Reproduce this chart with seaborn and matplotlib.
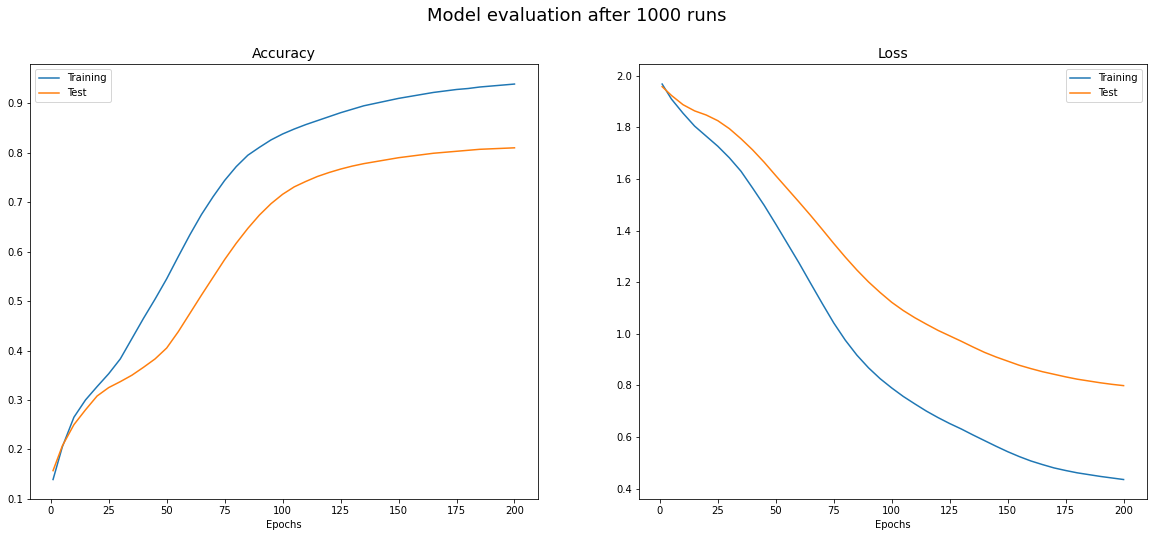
import matplotlib
matplotlib.use("Agg")
import matplotlib.pyplot as plt
import seaborn as sns

# values, every 5 epochs (plus epoch 1)
epochs = [1] + list(range(5, 201, 5))

train_acc = [0.139, 0.205, 0.265, 0.300, 0.327, 0.353, 0.383, 0.424, 0.465, 0.504,
             0.545, 0.590, 0.634, 0.675, 0.711, 0.744, 0.772, 0.795, 0.811, 0.826,
             0.838, 0.848, 0.857, 0.865, 0.873, 0.881, 0.888, 0.895, 0.900, 0.905,
             0.910, 0.914, 0.918, 0.922, 0.925, 0.928, 0.930, 0.933, 0.935, 0.937,
             0.939]
test_acc = [0.157, 0.207, 0.250, 0.280, 0.308, 0.325, 0.337, 0.350, 0.366, 0.383,
            0.405, 0.438, 0.475, 0.512, 0.548, 0.584, 0.617, 0.647, 0.674, 0.697,
            0.716, 0.731, 0.742, 0.752, 0.760, 0.767, 0.773, 0.778, 0.782, 0.786,
            0.790, 0.793, 0.796, 0.799, 0.801, 0.803, 0.805, 0.807, 0.808, 0.809,
            0.810]
train_loss = [1.968, 1.910, 1.855, 1.805, 1.766, 1.727, 1.682, 1.630, 1.565, 1.498,
              1.425, 1.350, 1.275, 1.196, 1.118, 1.042, 0.975, 0.917, 0.868, 0.826,
              0.790, 0.757, 0.728, 0.700, 0.675, 0.652, 0.631, 0.608, 0.586, 0.564,
              0.543, 0.524, 0.507, 0.493, 0.480, 0.470, 0.461, 0.454, 0.447, 0.441,
              0.435]
test_loss = [1.958, 1.924, 1.888, 1.864, 1.848, 1.826, 1.795, 1.756, 1.713, 1.665,
             1.613, 1.562, 1.511, 1.459, 1.405, 1.350, 1.297, 1.247, 1.201, 1.160,
             1.122, 1.090, 1.062, 1.037, 1.013, 0.992, 0.971, 0.949, 0.928, 0.910,
             0.894, 0.878, 0.865, 0.853, 0.843, 0.833, 0.824, 0.817, 0.810, 0.804,
             0.799]

series_labels = ["Training", "Test"]
panel_titles = ["Accuracy", "Loss"]

fig, axes = plt.subplots(1, 2, figsize=(1153 / 72, 537 / 72), dpi=72)
fig.subplots_adjust(left=0.026, right=0.9945, top=0.8803, bottom=0.0702, wspace=0.2)

panels = [(train_acc, test_acc, "upper left"), (train_loss, test_loss, "upper right")]
for ax, title, (train, test, loc) in zip(axes, panel_titles, panels):
    sns.lineplot(x=epochs, y=train, label=series_labels[0], color="#1f77b4", ax=ax)
    sns.lineplot(x=epochs, y=test, label=series_labels[1], color="#ff7f0e", ax=ax)
    ax.set_title(title, fontsize=14)
    ax.set_xlabel("Epochs")
    ax.legend(loc=loc)

fig.suptitle("Model evaluation after 1000 runs", fontsize=18, y=0.987)
fig.savefig("out.png", dpi=72)
